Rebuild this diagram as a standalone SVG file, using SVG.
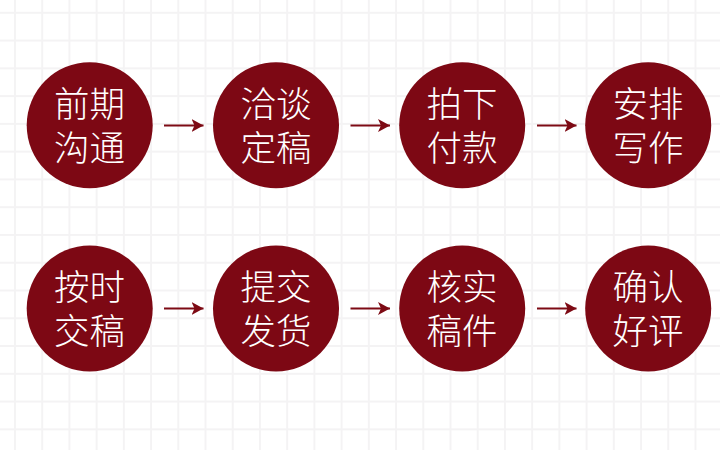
<svg xmlns="http://www.w3.org/2000/svg" width="720" height="450" viewBox="0 0 720 450">
<defs>
<pattern id="gridV" x="14" y="0" width="27.22" height="450" patternUnits="userSpaceOnUse"><rect x="0" y="0" width="2" height="450" fill="#f4f3f4"/></pattern>
<pattern id="gridH" x="0" y="11.800" width="720" height="27.77" patternUnits="userSpaceOnUse"><rect x="0" y="0" width="720" height="2" fill="#f4f3f4"/></pattern>
<marker id="arrow" markerUnits="userSpaceOnUse" markerWidth="12" markerHeight="14" refX="12" refY="7" orient="auto"><path d="M0 0.5L12 7L0 13.5L3 7Z" fill="#7d0a14"/></marker>
</defs>
<style>
.node{fill:#7d0814}
.label{font-family:"Noto Sans CJK SC","Noto Sans CJK JP",sans-serif;font-weight:300;font-size:35.500px;fill:#fff;text-anchor:middle}
.conn{stroke:#7d0a14;stroke-width:2;fill:none;marker-end:url(#arrow)}
</style>
<rect width="720" height="450" fill="#fff"/>
<rect width="720" height="450" fill="url(#gridV)"/>
<rect width="720" height="450" fill="url(#gridH)"/>
<g id="connectors">
<path class="conn" d="M164 125.500H203.500"/>
<path class="conn" d="M350.500 125.500H390"/>
<path class="conn" d="M537 125.500H576.500"/>
<path class="conn" d="M164 308.500H203.500"/>
<path class="conn" d="M350.500 308.500H390"/>
<path class="conn" d="M537 308.500H576.500"/>
</g>
<g id="n1"><circle class="node" cx="89.700" cy="125.300" r="63"/><text class="label"><tspan x="89.500" y="117">前期</tspan><tspan x="89.500" y="160.500">沟通</tspan></text></g>
<g id="n2"><circle class="node" cx="276" cy="125.300" r="63"/><text class="label"><tspan x="276" y="117">洽谈</tspan><tspan x="276" y="160.500">定稿</tspan></text></g>
<g id="n3"><circle class="node" cx="462.200" cy="125.300" r="63"/><text class="label"><tspan x="462" y="117">拍下</tspan><tspan x="462" y="160.500">付款</tspan></text></g>
<g id="n4"><circle class="node" cx="648.200" cy="125.300" r="63"/><text class="label"><tspan x="648" y="117">安排</tspan><tspan x="648" y="160.500">写作</tspan></text></g>
<g id="n5"><circle class="node" cx="89.700" cy="308.500" r="63"/><text class="label"><tspan x="89.500" y="300">按时</tspan><tspan x="89.500" y="343.500">交稿</tspan></text></g>
<g id="n6"><circle class="node" cx="276" cy="308.500" r="63"/><text class="label"><tspan x="276" y="300">提交</tspan><tspan x="276" y="343.500">发货</tspan></text></g>
<g id="n7"><circle class="node" cx="462.200" cy="308.500" r="63"/><text class="label"><tspan x="462" y="300">核实</tspan><tspan x="462" y="343.500">稿件</tspan></text></g>
<g id="n8"><circle class="node" cx="648.200" cy="308.500" r="63"/><text class="label"><tspan x="648" y="300">确认</tspan><tspan x="648" y="343.500">好评</tspan></text></g>
</svg>
